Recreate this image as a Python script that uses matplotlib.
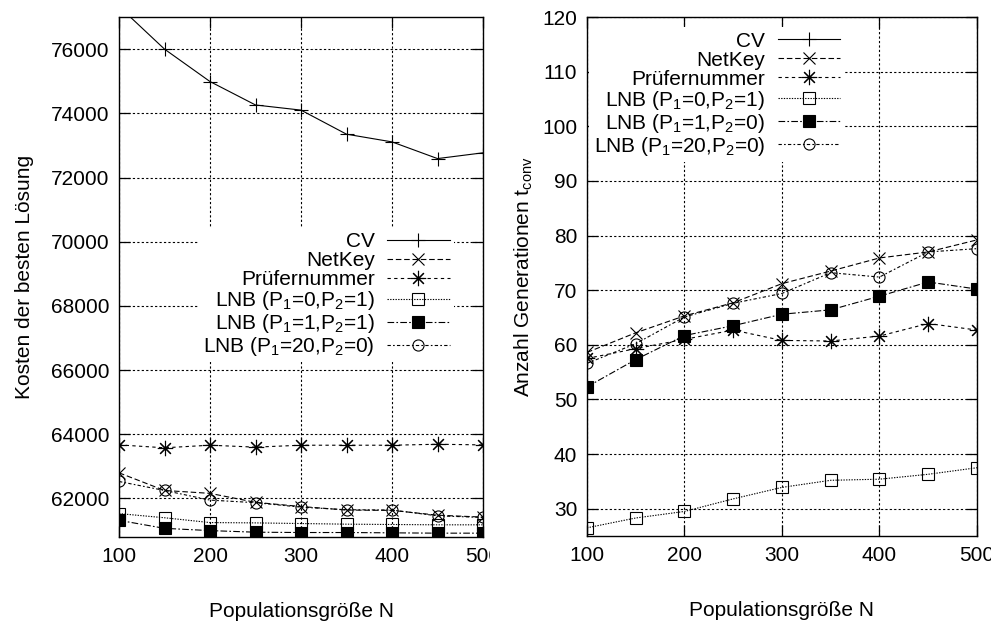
"""Kosten der besten Lösung / Anzahl Generationen vs. Populationsgröße."""

import matplotlib
matplotlib.use("Agg")
import matplotlib.pyplot as plt
from matplotlib.transforms import Bbox, TransformedBbox

plt.rcParams["font.family"] = ["Liberation Sans", "DejaVu Sans"]
plt.rcParams["mathtext.default"] = "regular"
plt.rcParams["font.size"] = 15

N = [100, 150, 200, 250, 300, 350, 400, 450, 500]

# left panel: costs of best solution
cost_cv = [77330, 76000, 74990, 74260, 74100, 73350, 73110, 72590, 72770]
cost_netkey = [62800, 62250, 62160, 61880, 61750, 61640, 61630, 61480, 61420]
cost_pruefer = [63670, 63580, 63660, 63600, 63660, 63660, 63660, 63690, 63670]
cost_lnb_0_1 = [61530, 61400, 61250, 61240, 61220, 61200, 61190, 61180, 61180]
cost_lnb_1_1 = [61320, 61070, 61000, 60950, 60940, 60940, 60930, 60920, 60920]
cost_lnb_20_0 = [62530, 62250, 61950, 61870, 61730, 61650, 61640, 61460, 61410]

# right panel: generations until convergence (CV lies outside the plotted range)
gen_cv = []
gen_netkey = [58.6, 62.2, 65.3, 67.7, 71.2, 73.5, 75.9, 77.0, 79.2]
gen_pruefer = [57.5, 59.3, 61.0, 62.7, 60.8, 60.7, 61.6, 63.9, 62.7]
gen_lnb_0_1 = [26.5, 28.3, 29.5, 31.8, 33.9, 35.2, 35.4, 36.3, 37.5]
gen_lnb_1_0 = [52.3, 57.3, 61.7, 63.5, 65.6, 66.4, 68.9, 71.5, 70.2]
gen_lnb_20_0 = [56.6, 60.2, 65.1, 67.6, 69.4, 73.2, 72.4, 77.0, 77.6]

LEFT_LABELS = ["CV", "NetKey", "Prüfernummer", "LNB (P$_1$=0,P$_2$=1)",
               "LNB (P$_1$=1,P$_2$=1)", "LNB (P$_1$=20,P$_2$=0)"]
RIGHT_LABELS = ["CV", "NetKey", "Prüfernummer", "LNB (P$_1$=0,P$_2$=1)",
                "LNB (P$_1$=1,P$_2$=0)", "LNB (P$_1$=20,P$_2$=0)"]

STYLES = [
    dict(linestyle="-", marker="+", markersize=10, mfc="none"),
    dict(linestyle=(0, (5, 2.5)), marker="x", markersize=8, mfc="none"),
    dict(linestyle=(0, (3, 3)), marker=(8, 2, 0), markersize=11, mfc="none"),
    dict(linestyle=(0, (1.2, 1.2)), marker="s", markersize=8, mfc="none"),
    dict(linestyle=(0, (6, 2, 1.5, 2)), marker="s", markersize=8, mfc="black"),
    dict(linestyle=(0, (3, 2, 1.5, 2)), marker="o", markersize=8, mfc="none"),
]


def style_axis(ax, ylim, yticks):
    ax.set_xlim(100, 500)
    ax.set_ylim(*ylim)
    ax.set_xticks(range(100, 501, 100))
    ax.set_yticks(yticks)
    ax.tick_params(direction="in", length=8, width=0.9, top=True, right=True, pad=7, labelsize=15)
    ax.grid(True, color="black", linestyle=(0, (2, 2)), linewidth=0.8)
    for spine in ax.spines.values():
        spine.set_linewidth(1.0)
    ax.set_xlabel("Populationsgröße N", labelpad=26)


def add_legend(ax, anchor):
    ax.legend(loc="upper right", bbox_to_anchor=anchor, markerfirst=False, frameon=True,
              facecolor="white", edgecolor="none", framealpha=1, fancybox=False, borderpad=0.2,
              handlelength=3.0, handletextpad=0.6, labelspacing=0.0, fontsize=15, borderaxespad=0)


fig = plt.figure(figsize=(9.91, 6.24), dpi=100)
ax1 = fig.add_axes([0.1201, 0.1394, 0.3673, 0.8333])
ax2 = fig.add_axes([0.5923, 0.1410, 0.3935, 0.8317])

left = [cost_cv, cost_netkey, cost_pruefer, cost_lnb_0_1, cost_lnb_1_1, cost_lnb_20_0]
for values, label, st in zip(left, LEFT_LABELS, STYLES):
    ax1.plot(N, values, color="black", linewidth=0.8, mec="black", mew=0.8, label=label, **st)
style_axis(ax1, (60800, 77000), range(62000, 76001, 2000))
ax1.set_ylabel("Kosten der besten Lösung", labelpad=12)
add_legend(ax1, (0.92, 0.595))

right = [gen_cv, gen_netkey, gen_pruefer, gen_lnb_0_1, gen_lnb_1_0, gen_lnb_20_0]
for values, label, st in zip(right, RIGHT_LABELS, STYLES):
    ax2.plot(N[:len(values)], values, color="black", linewidth=0.8, mec="black", mew=0.8, label=label, **st)
style_axis(ax2, (25, 120), range(30, 121, 10))
ax2.set_ylabel("Anzahl Generationen t$_{conv}$", labelpad=5)
add_legend(ax2, (0.66, 0.98))

# the left image is cut off at its right edge in the original
clip = TransformedBbox(Bbox([[0, 0], [490 / 991, 1]]), fig.transFigure)
for lbl in ax1.get_xticklabels():
    lbl.set_clip_box(clip)
    lbl.set_clip_on(True)

fig.savefig("out.png", dpi=100)
